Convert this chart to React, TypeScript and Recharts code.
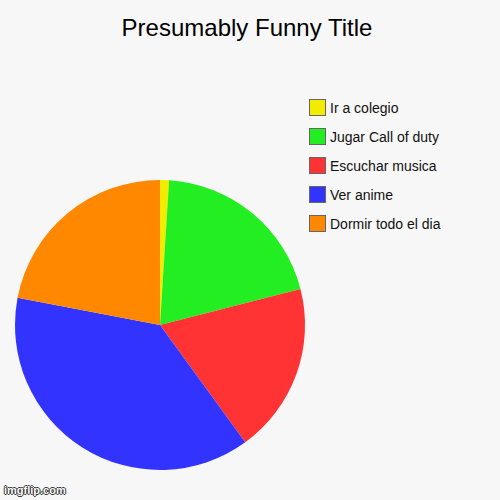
import React from "react";
import { PieChart, Pie, Cell, Legend } from "recharts";

const activities = [
  "Ir a colegio",
  "Jugar Call of duty",
  "Escuchar musica",
  "Ver anime",
  "Dormir todo el dia",
];
const shares = [1, 20, 19, 38, 22];
const colors = ["#f2ec00", "#22ee22", "#ff3333", "#3333ff", "#ff8800"];

const data = activities.map((name, i) => ({ name, value: shares[i] }));

const font = "Arial, 'Liberation Sans', sans-serif";

// keep the legend in data order (recharts sorts it by name otherwise)
const renderLegend = () => (
  <div>
    {activities.map((name, i) => (
      <div key={name} style={{ display: "flex", alignItems: "center", height: 29 }}>
        <span
          style={{
            width: 15,
            height: 15,
            background: colors[i],
            border: "1px solid #666",
            marginRight: 4,
          }}
        />
        <span style={{ fontFamily: font, fontSize: 14, color: "#111" }}>{name}</span>
      </div>
    ))}
  </div>
);

const App = () => {
  return (
    <div
      style={{
        position: "absolute",
        left: 0,
        top: 0,
        width: 500,
        height: 500,
        background: "#f7f7f7",
      }}
    >
      <div
        style={{
          position: "absolute",
          left: 0,
          top: 14,
          width: 494,
          textAlign: "center",
          fontFamily: font,
          fontSize: 24,
          color: "#000",
        }}
      >
        Presumably Funny Title
      </div>
      <PieChart width={500} height={500} margin={{ top: 0, right: 0, bottom: 0, left: 0 }}>
        <Pie
          data={data}
          dataKey="value"
          nameKey="name"
          cx={160}
          cy={325}
          outerRadius={145}
          startAngle={90}
          endAngle={-270}
          stroke="none"
          isAnimationActive={false}
        >
          {data.map((d, i) => (
            <Cell key={d.name} fill={colors[i]} />
          ))}
        </Pie>
        <Legend
          layout="vertical"
          content={renderLegend}
          wrapperStyle={{ position: "absolute", left: 309, top: 93, width: 180 }}
        />
      </PieChart>
      <div
        style={{
          position: "absolute",
          left: 4,
          top: 484,
          fontFamily: font,
          fontSize: 11,
          fontWeight: "bold",
          color: "#fff",
          textShadow: "1px 0 #333, -1px 0 #333, 0 1px #333, 0 -1px #333",
        }}
      >
        imgflip.com
      </div>
    </div>
  );
};

export default App;
